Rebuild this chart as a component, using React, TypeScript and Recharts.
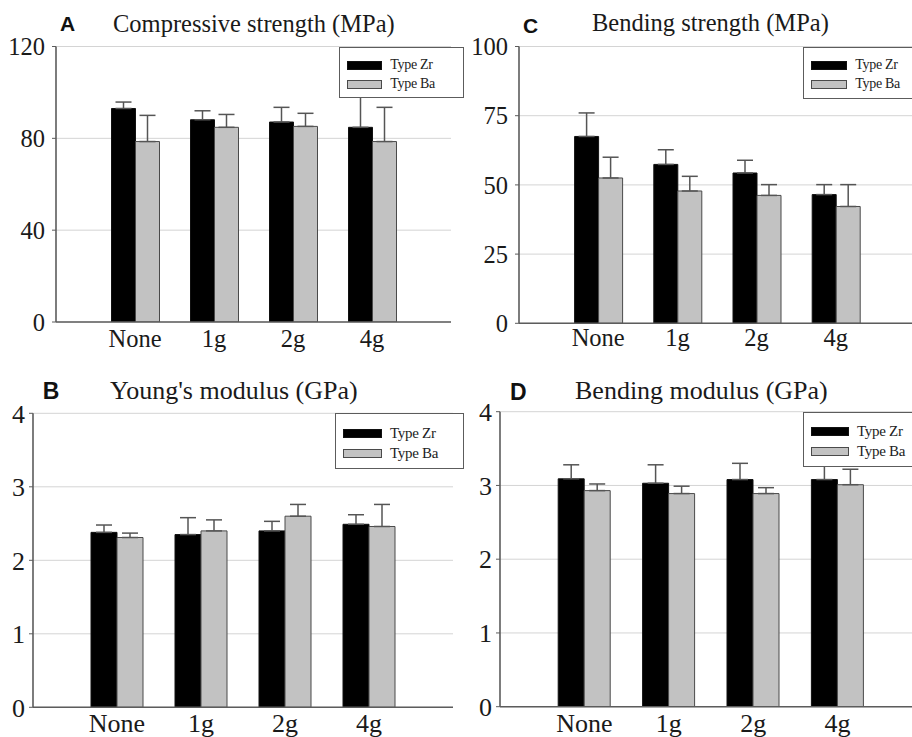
import { Bar, BarChart, CartesianGrid, ErrorBar, Legend, XAxis, YAxis } from "recharts"

const categories = ["None", "1g", "2g", "4g"]
const seriesNames = ["Type Zr", "Type Ba"]

// A: compressive strength (MPa)
const compZr = [93.0, 88.1, 87.1, 84.8]
const compZrErr = [2.8, 3.9, 6.4, 15.0]
const compBa = [78.6, 84.8, 85.2, 78.6]
const compBaErr = [11.4, 5.6, 5.7, 14.9]
const compTicks = [0, 40, 80, 120]

// B: Young's modulus (GPa)
const youngZr = [2.38, 2.35, 2.4, 2.49]
const youngZrErr = [0.1, 0.23, 0.13, 0.13]
const youngBa = [2.31, 2.4, 2.6, 2.46]
const youngBaErr = [0.06, 0.15, 0.16, 0.3]
const youngTicks = [0, 1, 2, 3, 4]

// C: bending strength (MPa)
const bendZr = [67.5, 57.4, 54.3, 46.5]
const bendZrErr = [8.5, 5.3, 4.6, 3.6]
const bendBa = [52.5, 47.8, 46.2, 42.2]
const bendBaErr = [7.5, 5.3, 3.9, 7.9]
const bendTicks = [0, 25, 50, 75, 100]

// D: bending modulus (GPa)
const bmodZr = [3.09, 3.03, 3.08, 3.08]
const bmodZrErr = [0.19, 0.25, 0.22, 0.22]
const bmodBa = [2.93, 2.89, 2.89, 3.01]
const bmodBaErr = [0.09, 0.1, 0.08, 0.21]
const bmodTicks = [0, 1, 2, 3, 4]

const serif = '"Liberation Serif", "Times New Roman", serif'
const sans = '"Liberation Sans", Arial, sans-serif'
const frame = "#5c5c5c"
const colors = ["#000000", "#c2c2c2"]
const edges = ["#111111", "#4a4a4a"]

function buildRows(zr: number[], zrErr: number[], ba: number[], baErr: number[]) {
  return categories.map((name, i) => ({
    name,
    zr: zr[i],
    zrErr: [0, zrErr[i]],
    ba: ba[i],
    baErr: [0, baErr[i]],
  }))
}

const panels = [
  {
    letter: "A", title: "Compressive strength (MPa)", rows: buildRows(compZr, compZrErr, compBa, compBaErr),
    ticks: compTicks, x: 0, y: 0, w: 460, h: 370, L: 56, R: 451, T: 46.5, B: 322,
    bar: 24, font: 24.5, xMargin: 8, yGap: 7, letterPos: [60, 13, 21], titlePos: [113, 11.5],
    legend: { left: 339.3, height: 51, pad: 8, row: 19, text: 14, sw: 35 },
  },
  {
    letter: "C", title: "Bending strength (MPa)", rows: buildRows(bendZr, bendZrErr, bendBa, bendBaErr),
    ticks: bendTicks, x: 460, y: 0, w: 460, h: 370, L: 519, R: 915, T: 46.5, B: 323.3,
    bar: 24, font: 24.5, xMargin: 5.5, yGap: 7, letterPos: [523, 15, 21], titlePos: [592, 11.2],
    legend: { left: 803.3, height: 52.5, pad: 8, row: 19, text: 14, sw: 36 },
  },
  {
    letter: "B", title: "Young's modulus (GPa)", rows: buildRows(youngZr, youngZrErr, youngBa, youngBaErr),
    ticks: youngTicks, x: 0, y: 370, w: 460, h: 380, L: 33, R: 453, T: 413.3, B: 707.3,
    bar: 26, font: 26, xMargin: 6.5, yGap: 4, letterPos: [42.7, 379.5, 23], titlePos: [110, 378],
    legend: { left: 335, height: 56, pad: 9, row: 20, text: 15, sw: 39 },
  },
  {
    letter: "D", title: "Bending modulus (GPa)", rows: buildRows(bmodZr, bmodZrErr, bmodBa, bmodBaErr),
    ticks: bmodTicks, x: 460, y: 370, w: 470, h: 380, L: 500, R: 922, T: 411.7, B: 706.7,
    bar: 26, font: 26, xMargin: 6.5, yGap: 4, letterPos: [510, 381, 23], titlePos: [575, 378],
    legend: { left: 803, height: 55, pad: 9, row: 20, text: 15, sw: 38 },
  },
]

type PanelDef = (typeof panels)[number]

function PanelChart({ p }: { p: PanelDef }) {
  const band = (p.R - p.L) / 5
  const margin = { top: p.T - p.y, right: p.x + p.w - p.R, left: 0, bottom: p.y + p.h - p.B - 30 }
  const max = p.ticks[p.ticks.length - 1]
  const lg = p.legend
  const axisLine = { stroke: frame, strokeWidth: 1.6 }
  const tickStyle = { fill: "#1a1a1a", fontSize: p.font, fontFamily: serif }

  const legendContent = () => (
    <div
      style={{
        boxSizing: "border-box", width: "100%", height: "100%", background: "#fff",
        border: `1.5px solid ${frame}`, paddingTop: lg.pad, paddingLeft: 7,
      }}
    >
      {seriesNames.map((name, i) => (
        <div key={name} style={{ display: "flex", alignItems: "center", height: lg.row }}>
          <div
            style={{
              boxSizing: "border-box", width: lg.sw, height: 9, background: colors[i],
              border: `1px solid ${edges[i]}`, marginRight: 8,
            }}
          />
          <span style={{ fontFamily: serif, fontSize: lg.text, color: "#222", letterSpacing: -0.3 }}>{name}</span>
        </div>
      ))}
    </div>
  )

  return (
    <div style={{ position: "absolute", left: p.x, top: p.y, width: p.w, height: p.h, fontFamily: serif }}>
      <BarChart
        width={p.w} height={p.h} data={p.rows} margin={margin} barGap={0} barSize={p.bar}
        style={{ fontFamily: serif }}
      >
        <CartesianGrid vertical={false} stroke="#d4d4d4" strokeWidth={1} />
        <XAxis
          dataKey="name" height={30} interval={0} padding={{ left: band / 2, right: band / 2 }}
          tickLine={false} tickSize={0} tickMargin={p.xMargin} axisLine={axisLine}
          tick={tickStyle} fontFamily={serif} fontSize={p.font}
        />
        <XAxis xAxisId="top" orientation="top" height={0} tick={false} tickLine={false} axisLine={axisLine} />
        <YAxis
          width={p.L - p.x} domain={[0, max]} ticks={p.ticks} interval={0} allowDataOverflow
          tickSize={4} tickMargin={p.yGap} tickLine={{ stroke: frame }} axisLine={axisLine}
          tick={tickStyle} fontFamily={serif} fontSize={p.font}
        />
        <YAxis yAxisId="right" orientation="right" width={0} tick={false} tickLine={false} axisLine={axisLine} />
        <Legend
          layout="horizontal" verticalAlign="middle" align="center" content={legendContent}
          wrapperStyle={{ left: lg.left - p.x, top: p.T - p.y, width: p.x + p.w - lg.left + 4, height: lg.height }}
        />
        <Bar dataKey="zr" name={seriesNames[0]} fill={colors[0]} stroke={edges[0]} isAnimationActive={false}>
          <ErrorBar dataKey="zrErr" direction="y" width={8} stroke="#555" strokeWidth={1.5} isAnimationActive={false} />
        </Bar>
        <Bar dataKey="ba" name={seriesNames[1]} fill={colors[1]} stroke={edges[1]} isAnimationActive={false}>
          <ErrorBar dataKey="baErr" direction="y" width={8} stroke="#555" strokeWidth={1.5} isAnimationActive={false} />
        </Bar>
      </BarChart>
      <div
        style={{
          position: "absolute", left: p.letterPos[0] - p.x, top: p.letterPos[1] - p.y, fontFamily: sans,
          fontWeight: 700, fontSize: p.letterPos[2], lineHeight: `${p.letterPos[2]}px`, color: "#111",
        }}
      >
        {p.letter}
      </div>
      <div
        style={{
          position: "absolute", left: p.titlePos[0] - p.x, top: p.titlePos[1] - p.y, fontFamily: serif,
          fontSize: p.font, lineHeight: `${p.font}px`, color: "#1a1a1a", whiteSpace: "nowrap",
        }}
      >
        {p.title}
      </div>
    </div>
  )
}

export default function App() {
  return (
    <div style={{ position: "fixed", left: 0, top: 0, width: 912, height: 737, overflow: "hidden", background: "#fff" }}>
      {panels.map((p) => (
        <PanelChart key={p.letter} p={p} />
      ))}
    </div>
  )
}
